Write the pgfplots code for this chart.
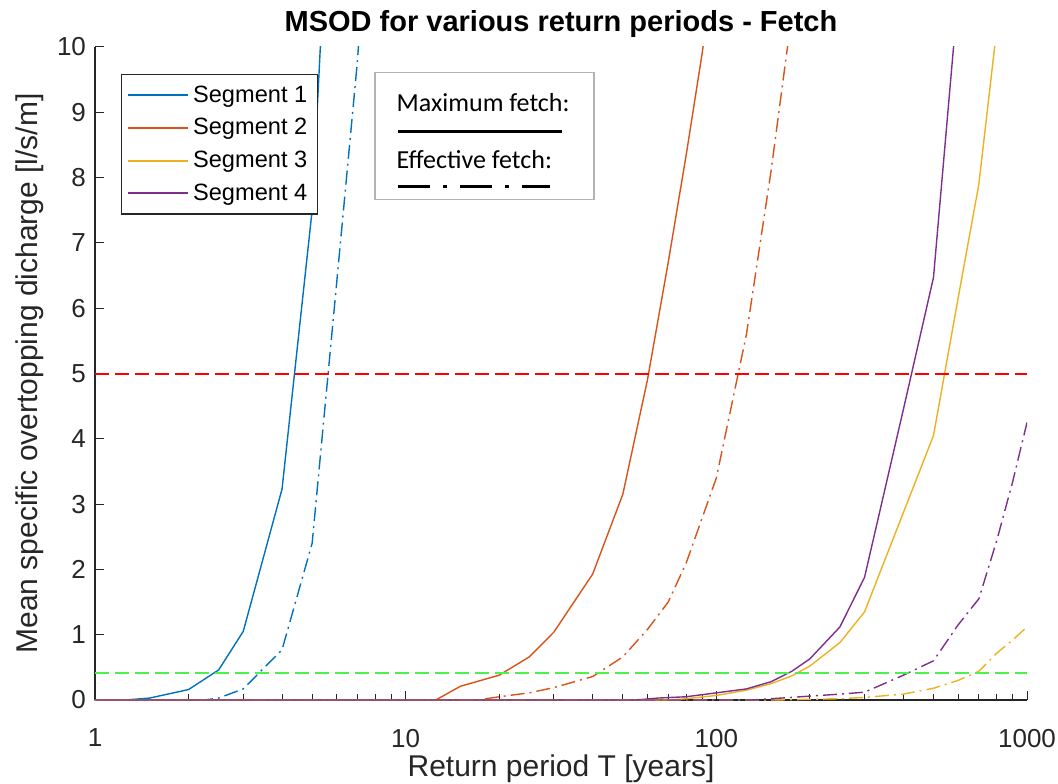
\documentclass[border=0pt]{standalone}
\usepackage{fontspec}
\setmainfont{Liberation Sans}
\newfontfamily\calibri{Carlito}
\usepackage{pgfplots}
\pgfplotsset{compat=1.18}

\definecolor{c1}{rgb}{0,0.447,0.741}
\definecolor{c2}{rgb}{0.850,0.325,0.098}
\definecolor{c3}{rgb}{0.929,0.694,0.125}
\definecolor{c4}{rgb}{0.494,0.184,0.556}
\definecolor{axgray}{rgb}{0.15,0.15,0.15}
\definecolor{mgreen}{rgb}{0.3,0.95,0.3}
\definecolor{mred}{rgb}{1,0,0}

\tikzset{
  maxf/.style={line width=0.7pt},
  efff/.style={line width=0.7pt, dash pattern=on 7pt off 2.5pt on 1pt off 2.5pt},
}

\begin{document}
\begin{tikzpicture}
\begin{axis}[
  scale only axis, width=466pt, height=326.5pt,
  xmode=log, xmin=1, xmax=1000, ymin=0, ymax=10,
  axis x line*=bottom, axis y line*=left,
  axis line style={-, draw=axgray, line width=0.6pt},
  tick align=inside, major tick length=4.5pt, minor tick length=3pt,
  every tick/.style={axgray, line width=0.5pt},
  xtick={1,10,100,1000}, xticklabels={1,10,100,1000},
  minor xtick={2,3,4,5,6,7,8,9,20,30,40,50,60,70,80,90,200,300,400,500,600,700,800,900},
  ytick={0,1,2,3,4,5,6,7,8,9,10},
  /pgf/number format/assume math mode=true,
  tick label style={font=\fontsize{13}{13}\selectfont, text=axgray},
  xticklabel style={yshift=-11pt},
  yticklabel style={xshift=-1pt},
  xlabel={Return period T [years]},
  ylabel={Mean specific overtopping dicharge [l/s/m]},
  label style={font=\fontsize{15}{15}\selectfont, text=axgray},
  xlabel style={yshift=3pt},
  title={MSOD for various return periods - Fetch},
  title style={font=\bfseries\fontsize{14.5}{14.5}\selectfont, yshift=-5pt},
  legend cell align=left,
  legend style={at={(rel axis cs:0.0276,0.9587)}, anchor=north west,
    draw=axgray, line width=0.6pt, font=\fontsize{11.8}{11.8}\selectfont,
    inner xsep=3pt, inner ysep=3.5pt, row sep=2.6pt},
  legend image code/.code={\draw[#1, line width=0.9pt] (0pt,0pt) -- (30pt,0pt);},
]
% maximum fetch
\addplot[c1, maxf] coordinates {(1,0) (1.25,0) (1.5,0.03) (2,0.16) (2.5,0.46) (3,1.05) (4,3.23) (5,7.5) (6,15)};
\addlegendentry{Segment 1}
\addplot[c2, maxf] coordinates {(1,0) (12.5,0) (15,0.21) (20,0.38) (25,0.66) (30,1.04) (40,1.93) (50,3.15) (60,4.9) (70,6.7) (80,8.35) (90,9.9) (100,11.5)};
\addlegendentry{Segment 2}
\addplot[c3, maxf] coordinates {(1,0) (70,0) (80,0.02) (100,0.07) (125,0.15) (150,0.25) (175,0.37) (200,0.52) (250,0.88) (300,1.35) (400,2.87) (500,4.05) (600,6.15) (700,7.9) (800,10.3)};
\addlegendentry{Segment 3}
\addplot[c4, maxf] coordinates {(1,0) (55,0) (65,0.03) (80,0.05) (100,0.11) (125,0.17) (150,0.28) (175,0.44) (200,0.63) (250,1.12) (300,1.88) (400,4.45) (500,6.47) (600,10.8)};
\addlegendentry{Segment 4}
% effective fetch
\addplot[c1, efff, forget plot] coordinates {(1,0) (2.25,0) (2.5,0.03) (3,0.17) (4,0.77) (5,2.4) (6,6.4) (7,9.8) (8,14)};
\addplot[c2, efff, forget plot] coordinates {(1,0) (17,0) (20,0.05) (25,0.11) (30,0.19) (40,0.36) (50,0.66) (60,1.08) (70,1.5) (80,2.1) (100,3.4) (125,5.6) (150,8.1) (175,10.5)};
\addplot[c3, efff, forget plot] coordinates {(1,0) (150,0) (200,0.01) (250,0.02) (300,0.04) (400,0.09) (500,0.18) (600,0.3) (700,0.44) (800,0.72) (900,0.92) (1000,1.12)};
\addplot[c4, efff, forget plot] coordinates {(1,0) (130,0) (150,0.02) (175,0.04) (200,0.06) (250,0.09) (300,0.12) (400,0.38) (500,0.6) (600,1.15) (700,1.55) (800,2.45) (900,3.35) (1000,4.25)};
% limits
\addplot[draw=mred, line width=1pt, dash pattern=on 7pt off 3pt, forget plot] coordinates {(1,5) (1000,5)};
\addplot[draw=mgreen, line width=1pt, dash pattern=on 7pt off 3pt, forget plot] coordinates {(1,0.42) (1000,0.42)};

\coordinate (bl) at (rel axis cs:0,0);
\coordinate (tr) at (rel axis cs:1,1);
% annotation box
\draw[black!30, line width=0.6pt, fill=white] (rel axis cs:0.3004,0.7668) rectangle (rel axis cs:0.5354,0.9606);
\node[anchor=west, inner sep=0pt, font=\calibri\fontsize{13}{13}\selectfont] at (rel axis cs:0.3233,0.9142) {Maximum fetch:};
\draw[black, line width=1.5pt] (rel axis cs:0.3251,0.8703) -- (rel axis cs:0.5011,0.8703);
\node[anchor=west, inner sep=0pt, font=\calibri\fontsize{13}{13}\selectfont] at (rel axis cs:0.3233,0.827) {Effective fetch:};
\draw[black, line width=1.5pt, dash pattern=on 16pt off 6.5pt on 2pt off 6.5pt] (rel axis cs:0.3251,0.7871) -- (rel axis cs:0.4882,0.7871);
\end{axis}
\pgfresetboundingbox
\path ([shift={(-47.5pt,-41.5pt)}]bl) rectangle ([shift={(15.5pt,23.5pt)}]tr);
\end{tikzpicture}
\end{document}
